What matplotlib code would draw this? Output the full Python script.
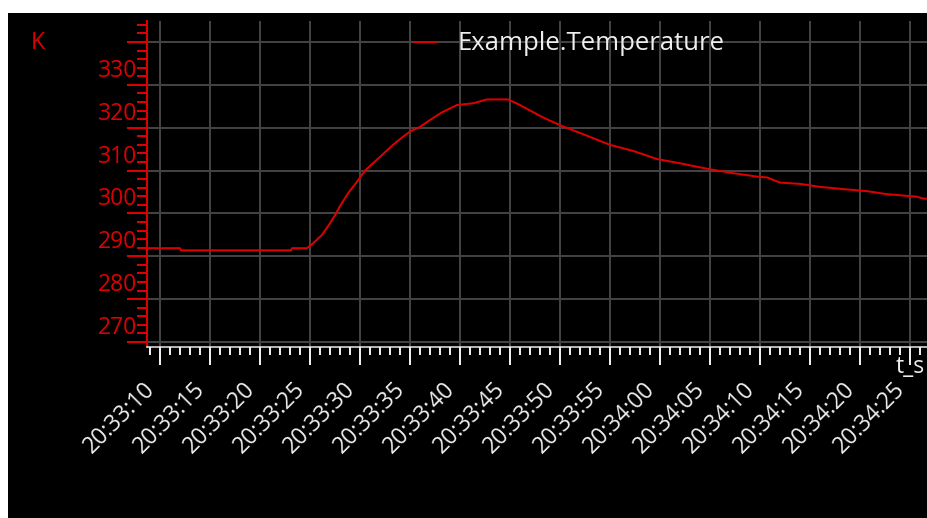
import pandas as pd
import matplotlib
matplotlib.use("Agg")
import matplotlib.pyplot as plt
import matplotlib.dates as mdates
from matplotlib.patches import Rectangle
from matplotlib.transforms import ScaledTranslation

# seconds after 20:33:10 and temperature in K
t_sec = [-1.3, 2.0, 2.1, 13.1, 13.2, 14.7, 15.3, 16.2, 17.0, 17.5, 18.0, 18.8,
         19.7, 20.5, 22.0, 23.3, 24.3, 25.0, 26.0, 27.0, 28.2, 29.7, 31.3, 32.7,
         34.8, 36.0, 36.3, 38.3, 40.0, 42.3, 45.0, 47.3, 49.7, 52.0, 55.0, 57.3,
         59.7, 60.7, 62.0, 64.0, 66.0, 68.7, 70.7, 72.7, 75.7, 76.3, 76.8]
temp = [291.9, 291.9, 291.4, 291.4, 291.9, 291.9, 293.0, 295.0, 297.7, 299.6,
        301.7, 304.7, 307.4, 310.0, 313.2, 316.0, 317.9, 319.1, 320.2, 321.8,
        323.6, 325.3, 325.7, 326.6, 326.6, 325.3, 324.9, 322.4, 320.6, 318.5,
        316.0, 314.6, 312.7, 311.7, 310.3, 309.4, 308.6, 308.4, 307.2, 306.9,
        306.2, 305.6, 305.2, 304.5, 303.9, 303.5, 303.4]
y_ticks = [270, 280, 290, 300, 310, 320, 330, 340]
y_labels = ["270", "280", "290", "300", "310", "320", "330", ""]
series_name = "Example.Temperature"

t0 = pd.Timestamp("2024-01-01 20:33:10")
times = t0 + pd.to_timedelta(t_sec, unit="s")

RED = "#dd0000"
FG = "#eeeeee"
GRID = "#424242"
FONT = "Open Sans"
FS = 16.5
LEG_FS = 18.5
PX = 72 / 100  # points per pixel at dpi 100

W, H = 928, 518
fig = plt.figure(figsize=(W / 100, H / 100), dpi=100, facecolor="white")
fig.patches.append(Rectangle((8 / W, 0), 2, (H - 13) / H, transform=fig.transFigure,
                             facecolor="black", edgecolor="none", zorder=-5))

ax = fig.add_axes([147 / W, (H - 347) / H, 1 - 147 / W, (347 - 21) / H])
ax.set_zorder(2)
ax.set_facecolor("none")

ax.plot(times, temp, color=RED, lw=2 * PX, label=series_name)

ax.set_xlim(t0 + pd.Timedelta(seconds=-1.3), t0 + pd.Timedelta(seconds=76.8))
ax.set_ylim(268.84, 344.9)

ax.xaxis.set_major_locator(mdates.SecondLocator(bysecond=range(0, 60, 5)))
ax.xaxis.set_minor_locator(mdates.SecondLocator())
ax.xaxis.set_major_formatter(mdates.DateFormatter("%H:%M:%S"))
ax.set_yticks(y_ticks, labels=y_labels)
ax.set_yticks(range(270, 345, 2), minor=True)

ax.grid(True, which="major", color=GRID, lw=2 * PX)
ax.set_axisbelow(True)

for s in ("top", "right"):
    ax.spines[s].set_visible(False)
ax.spines["left"].set_color(RED)
ax.spines["left"].set_linewidth(2 * PX)
ax.spines["bottom"].set_color(FG)
ax.spines["bottom"].set_linewidth(1.5 * PX)

ax.tick_params(axis="x", which="major", length=18 * PX, width=2 * PX, color=FG,
               labelcolor=FG, labelsize=FS, pad=12 * PX)
ax.tick_params(axis="x", which="minor", length=8 * PX, width=2 * PX, color=FG)
ax.tick_params(axis="y", which="major", length=20 * PX, width=2 * PX, color=RED,
               labelcolor=RED, labelsize=FS, pad=-10 * PX)
ax.tick_params(axis="y", which="minor", length=10 * PX, width=2 * PX, color=RED)

for lbl in ax.get_xticklabels():
    lbl.set_rotation(45)
    lbl.set_ha("right")
    lbl.set_va("top")
    lbl.set_fontfamily(FONT)

shift = ScaledTranslation(0, 17 / 100, fig.dpi_scale_trans)
for lbl in ax.get_yticklabels():
    lbl.set_fontfamily(FONT)
    lbl.set_transform(lbl.get_transform() + shift)

fig.text(37.5 / W, 1 - 43 / H, "K", color=RED, fontsize=FS, family=FONT,
         ha="center", va="center")
fig.text(896 / W, 1 - 367 / H, "t_s", color=FG, fontsize=FS, family=FONT,
         ha="left", va="center")

ax.legend(loc="center left", bbox_to_anchor=(415 / W, 1 - 44 / H),
          bbox_transform=fig.transFigure, frameon=False, borderpad=0,
          borderaxespad=0, handlelength=0.8, handletextpad=0.85,
          labelcolor=FG, prop={"family": FONT, "size": LEG_FS})

fig.savefig("out.png", dpi=100, facecolor="white")
